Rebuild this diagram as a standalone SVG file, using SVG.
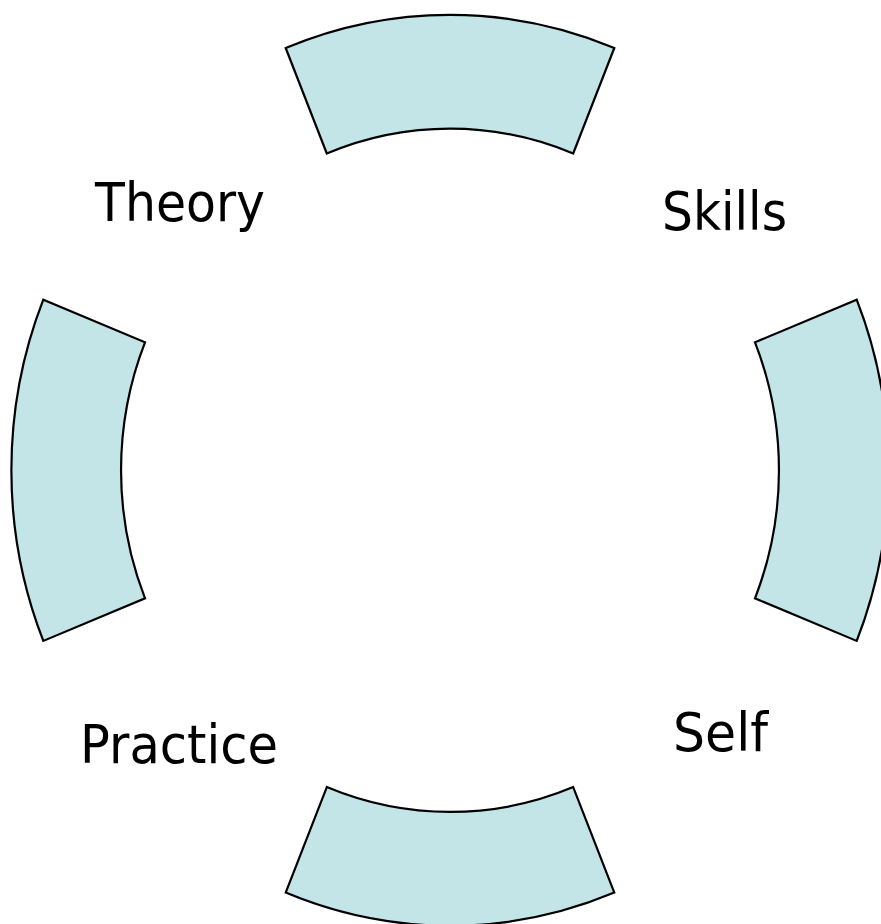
<svg xmlns="http://www.w3.org/2000/svg" width="881" height="924" viewBox="0 0 881 924">
  <style>
    .seg { fill: #C4E5E8; stroke: #000000; stroke-width: 2.2; stroke-linejoin: miter; }
    .lbl { font-family: "DejaVu Sans", "Liberation Sans", sans-serif; font-size: 54px; fill: #000000; }
  </style>
  <rect x="0" y="0" width="881" height="924" fill="#FFFFFF"/>
  <g id="segment-top">
    <path class="seg" d="M285.7,48 A438.6,455.5 0 0 1 614.3,48 L573.2,153.5 A329,341.7 0 0 0 326.8,153.5 Z"/>
  </g>
  <g id="segment-right">
    <path class="seg" d="M856.7,299.7 A438.6,455.5 0 0 1 856.7,640.9 L755,598.3 A329,341.7 0 0 0 755,342.3 Z"/>
  </g>
  <g id="segment-bottom">
    <path class="seg" d="M614.3,892.6 A438.6,455.5 0 0 1 285.7,892.6 L326.8,787.1 A329,341.7 0 0 0 573.2,787.1 Z"/>
  </g>
  <g id="segment-left">
    <path class="seg" d="M43.3,640.9 A438.6,455.5 0 0 1 43.3,299.7 L145,342.3 A329,341.7 0 0 0 145,598.3 Z"/>
  </g>
  <g id="label-theory">
    <text class="lbl" x="95" y="221" textLength="170" lengthAdjust="spacingAndGlyphs">Theory</text>
  </g>
  <g id="label-skills">
    <text class="lbl" x="662" y="230" textLength="125" lengthAdjust="spacingAndGlyphs">Skills</text>
  </g>
  <g id="label-practice">
    <text class="lbl" x="80" y="763" textLength="198" lengthAdjust="spacingAndGlyphs">Practice</text>
  </g>
  <g id="label-self">
    <text class="lbl" x="673" y="751" textLength="95" lengthAdjust="spacingAndGlyphs">Self</text>
  </g>
  <g id="connectors"></g>
</svg>
